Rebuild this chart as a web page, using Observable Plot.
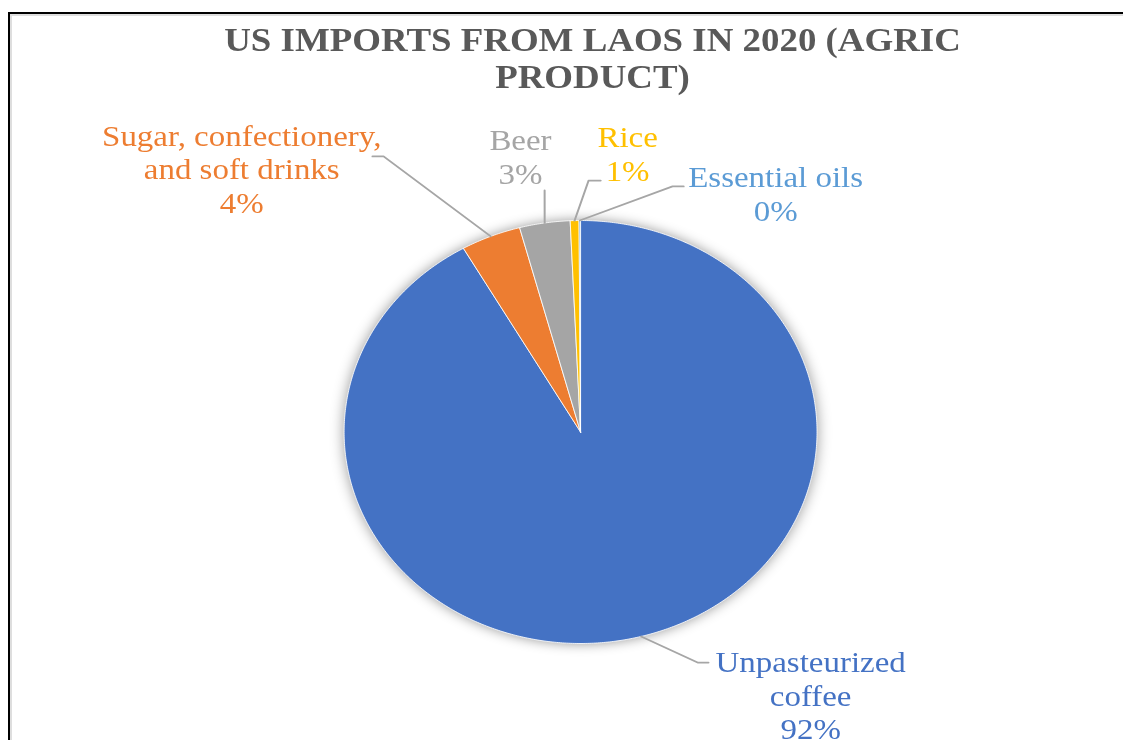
<!DOCTYPE html>
<html>
<head>
<meta charset="utf-8">
<script src="https://cdn.jsdelivr.net/npm/d3@7"></script>
<script src="https://cdn.jsdelivr.net/npm/@observablehq/plot@0.6"></script>
<style>
  html, body { margin: 0; padding: 0; background: #fff; overflow: hidden; }
  #frame { position: absolute; left: 8px; top: 12px; width: 2000px; height: 2000px;
           border-left: 2px solid #000; border-top: 2px solid #000; }
  #frame2 { position: absolute; left: 10px; top: 14px; width: 2000px; height: 2000px;
            border-left: 2px solid #dedede; border-top: 2px solid #dedede; }
  #wrap { position: absolute; left: 0; top: 0; width: 1004.5px; height: 740px;
          transform: scaleX(1.118); transform-origin: 0 0; }
  #title { position: absolute; left: 0; top: 22px; width: 1060px; text-align: center;
           font-family: "Liberation Serif", "Times New Roman", serif; font-weight: bold;
           font-size: 33px; line-height: 37px; color: #595959; }
  #chart { position: absolute; left: 0; top: 100px; }
</style>
</head>
<body>
<div id="frame"></div>
<div id="frame2"></div>
<div id="wrap">
  <div id="title">US IMPORTS FROM LAOS IN 2020 (AGRIC<br>PRODUCT)</div>
  <div id="chart"></div>
</div>
<script>
// ---- data ----
const categories = ["Unpasteurized coffee", "Sugar, confectionery, and soft drinks", "Beer", "Rice", "Essential oils"];
const labelNames = ["Unpasteurized\ncoffee", "Sugar, confectionery,\nand soft drinks", "Beer", "Rice", "Essential oils"];
const shares = [91.75, 4.1, 3.45, 0.6, 0.1];
const sliceColors = ["#4472C4", "#ED7D31", "#A5A5A5", "#FFC000", "#5B9BD5"];

// ---- label layout (unit-circle coordinates) ----
const labelPos = [[0.973, -1.243], [-1.433, 1.246], [-0.254, 1.305], [0.199, 1.319], [0.825, 1.130]];
const leaderElbows = [
  [[0.541, -1.090], [0.495, -1.090]],
  [[-0.880, 1.303], [-0.833, 1.303]],
  [[-0.152, 1.142]],
  [[0.085, 1.189], [0.034, 1.189]],
  [[0.436, 1.161], [0.389, 1.161]]
];

const arcs = d3.pie().sort(null).value(d => d)(shares);

// slice polygons
const slicePts = [];
arcs.forEach((a, i) => {
  const name = categories[i];
  slicePts.push({name, x: 0, y: 0});
  const n = Math.max(2, Math.ceil((a.endAngle - a.startAngle) / (Math.PI / 360)));
  for (let k = 0; k <= n; k++) {
    const t = a.startAngle + (a.endAngle - a.startAngle) * k / n;
    slicePts.push({name, x: Math.sin(t), y: Math.cos(t)});
  }
  slicePts.push({name, x: 0, y: 0});
});

// leader lines
const leaderPts = [];
arcs.forEach((a, i) => {
  const name = categories[i];
  leaderElbows[i].forEach(([x, y]) => leaderPts.push({name, x, y}));
  const m = (a.startAngle + a.endAngle) / 2;
  leaderPts.push({name, x: Math.sin(m), y: Math.cos(m)});
});

// labels
const labels = categories.map((name, i) => ({
  name,
  x: labelPos[i][0],
  y: labelPos[i][1],
  text: labelNames[i] + "\n" + Math.round(shares[i]) + "%"
}));

const r = 211.5, cx = 580 / 1.118;
const chart = Plot.plot({
  width: 1004,
  height: 640,
  margin: 0,
  x: {domain: [-1, 1], range: [cx - r, cx + r], axis: null},
  y: {domain: [-1, 1], range: [543, 120], axis: null},
  color: {domain: categories, range: sliceColors},
  style: {background: "transparent"},
  marks: [
    Plot.line(slicePts, {x: "x", y: "y", z: "name", fill: "name", stroke: "white", strokeWidth: 0.8, curve: "linear"}),
    Plot.line(leaderPts, {x: "x", y: "y", z: "name", stroke: "#A6A6A6", strokeWidth: 1.8, curve: "linear"}),
    Plot.text(labels, {x: "x", y: "y", text: "text", fill: "name", fontSize: 29.5,
      fontFamily: "Liberation Serif", lineHeight: 1.14, textAnchor: "middle", lineAnchor: "middle"})
  ]
});
const g = chart.querySelector('g[aria-label="line"]');
if (g) g.style.filter = "drop-shadow(0px 0px 6px rgba(0,0,0,0.4))";
document.getElementById("chart").appendChild(chart);
</script>
</body>
</html>
